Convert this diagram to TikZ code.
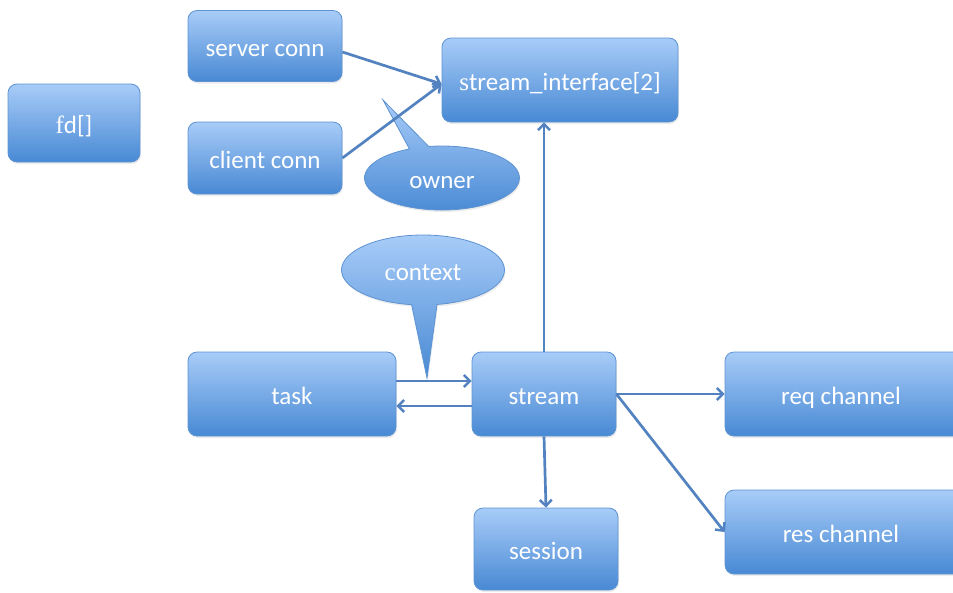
\documentclass[tikz,border=0pt]{standalone}
\usepackage{fontspec}
\setmainfont{Carlito}
\newfontfamily\serifletter{Liberation Serif}
\usetikzlibrary{shapes.callouts,shadows,arrows.meta,calc}
\definecolor{boxtop}{HTML}{A8CCF8}
\definecolor{boxbot}{HTML}{4889D4}
\definecolor{boxline}{HTML}{5E93D2}
\definecolor{arrowcol}{HTML}{5283C0}
\tikzset{
  fillstyle/.style={top color=boxtop, bottom color=boxbot, draw=boxline, line width=0.8pt,
    drop shadow={opacity=0.15, shadow xshift=1pt, shadow yshift=-2pt}},
  box/.style={fillstyle, rounded corners=9pt, text=white, font=\fontsize{25}{28}\selectfont, align=center, inner sep=0pt, text depth=0pt, text height=0pt},
  lbl/.style={text=white, font=\fontsize{25}{28}\selectfont, anchor=base},
  bubble/.style={fillstyle, ellipse callout, inner sep=0pt},
  arr/.style={draw=arrowcol, line width=2.7pt, -{Straight Barb[length=6pt,width=12pt,line width=2.5pt]}}
}
\begin{document}
\begin{tikzpicture}[x=1pt,y=-1pt]
\useasboundingbox (0,0) rectangle (953,592);
\node[box, minimum width=132, minimum height=78] (fd) at (74,123) {};
\node[box, minimum width=154, minimum height=71] (server) at (265,46) {};
\node[box, minimum width=154, minimum height=72] (client) at (265,158) {};
\node[box, minimum width=236, minimum height=84] (si) at (560,80) {};
\node[box, minimum width=208, minimum height=84] (task) at (292,394) {};
\node[box, minimum width=144, minimum height=84] (stream) at (544,394) {};
\node[box, minimum width=240, minimum height=84] (req) at (845,394) {};
\node[box, minimum width=240, minimum height=84] (res) at (845,532) {};
\node[box, minimum width=144, minimum height=82] (session) at (546,549) {};
\node[bubble, minimum width=155, minimum height=64, callout absolute pointer={(383,100)}] (owner) at (442,178) {};
\node[bubble, minimum width=163, minimum height=70, callout absolute pointer={(427,378)}, callout pointer arc=18] (context) at (423,270) {};
\node[lbl] (fdl) at ($(fd.center)+(0,10)$) {{\serifletter f}d[]};
\node[lbl] (serverl) at ($(server.center)+(0,10)$) {server conn};
\node[lbl] (clientl) at ($(client.center)+(0,10)$) {client conn};
\node[lbl] (sil) at ($(si.center)+(0,10)$) {{\serifletter s}tream\_interface[2]};
\node[lbl] (taskl) at ($(task.center)+(0,10)$) {task};
\node[lbl] (streaml) at ($(stream.center)+(0,10)$) {stream};
\node[lbl] (reql) at ($(req.center)+(-4,10)$) {req channel};
\node[lbl] (resl) at ($(res.center)+(-4,10)$) {res channel};
\node[lbl] (sessionl) at ($(session.center)+(0,10)$) {session};
\node[lbl] (ownerl) at ($(owner.center)+(0,10)$) {owner};
\node[lbl] (contextl) at ($(context.center)+(0,10)$) {{\serifletter c}ontext};
\draw[arr] ($(server.east)+(0,6)$) -- ($(si.west)+(0,4)$);
\draw[arr] (client.east) -- ($(si.west)+(0,4)$);
\draw[arr] ($(task.east)+(0,-13)$) -- ($(stream.west)+(0,-13)$);
\draw[arr] ($(stream.west)+(0,12)$) -- ($(task.east)+(0,12)$);
\draw[arr] (stream.north) -- (stream.north |- si.south);
\draw[arr] (stream.south) -- (session.north);
\draw[arr] (stream.east) -- (req.west);
\draw[arr] (stream.east) -- (res.west);
\end{tikzpicture}
\end{document}
